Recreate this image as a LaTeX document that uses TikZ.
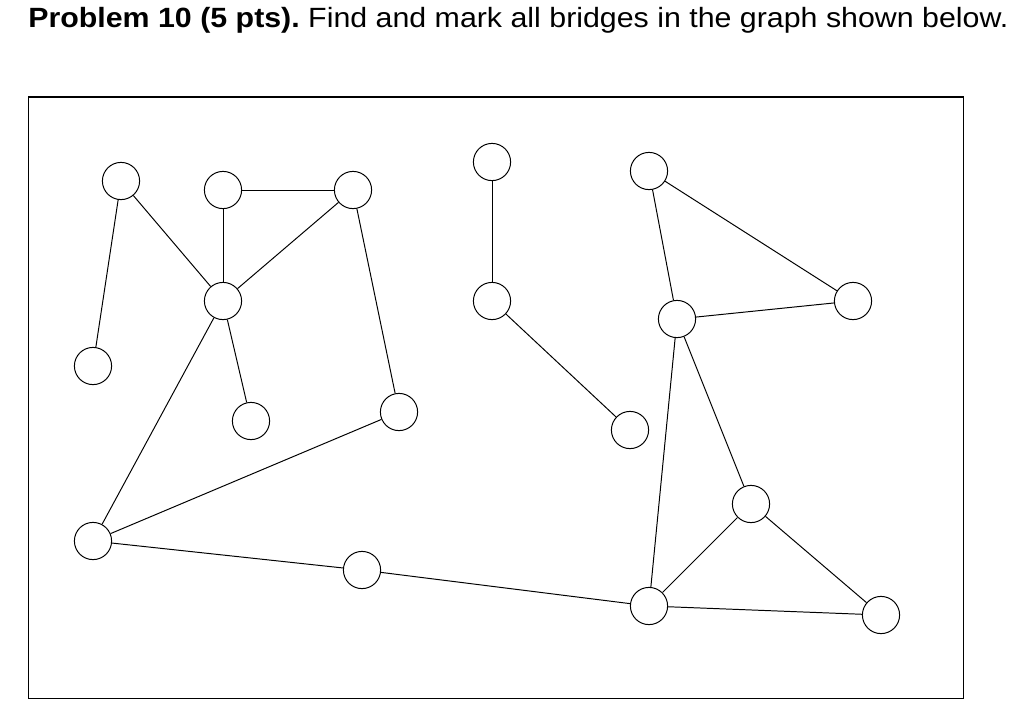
\documentclass[tikz,border=0pt]{standalone}
\usepackage{fontspec}
\setmainfont{Liberation Sans}
\begin{document}
\frenchspacing
\begin{tikzpicture}[x=0.025cm,y=-0.025cm,
  vert/.style={circle,draw,line width=0.7pt,minimum size=0.93cm,inner sep=0pt},
  edge/.style={line width=0.7pt}]
  \useasboundingbox (0,0) rectangle (1024,712);
  \node[anchor=base west,inner sep=0pt,font=\fontsize{19.8}{23}\selectfont] (title) at (28,27.3)
    {\scalebox{1.09}[1]{\textbf{Problem 10 (5 pts).} Find and mark all bridges in the graph shown below.}};
  \draw[line width=1pt] (28.5,97) rectangle (963.5,698.5);
  % left part
  \node[vert] (v1) at (121,181) {};
  \node[vert] (v2) at (223,190) {};
  \node[vert] (v3) at (353,190) {};
  \node[vert] (v4) at (223,301) {};
  \node[vert] (v5) at (93,366) {};
  \node[vert] (v6) at (251,421) {};
  \node[vert] (v7) at (399,412) {};
  \node[vert] (v8) at (93,541) {};
  \node[vert] (v9) at (362,570) {};
  % middle path
  \node[vert] (v10) at (492,162) {};
  \node[vert] (v11) at (492,301) {};
  \node[vert] (v12) at (630,430) {};
  % right part
  \node[vert] (v13) at (649,171) {};
  \node[vert] (v14) at (853,301) {};
  \node[vert] (v15) at (677,319) {};
  \node[vert] (v16) at (751,504) {};
  \node[vert] (v17) at (649,606) {};
  \node[vert] (v18) at (881,615) {};
  \foreach \a/\b in {v1/v4,v1/v5,v2/v3,v2/v4,v3/v4,v3/v7,v4/v6,v4/v8,v7/v8,v8/v9,v9/v17,
    v10/v11,v11/v12,v13/v14,v13/v15,v14/v15,v15/v16,v15/v17,v16/v17,v16/v18,v17/v18}
    \draw[edge] (\a) -- (\b);
\end{tikzpicture}
\end{document}
